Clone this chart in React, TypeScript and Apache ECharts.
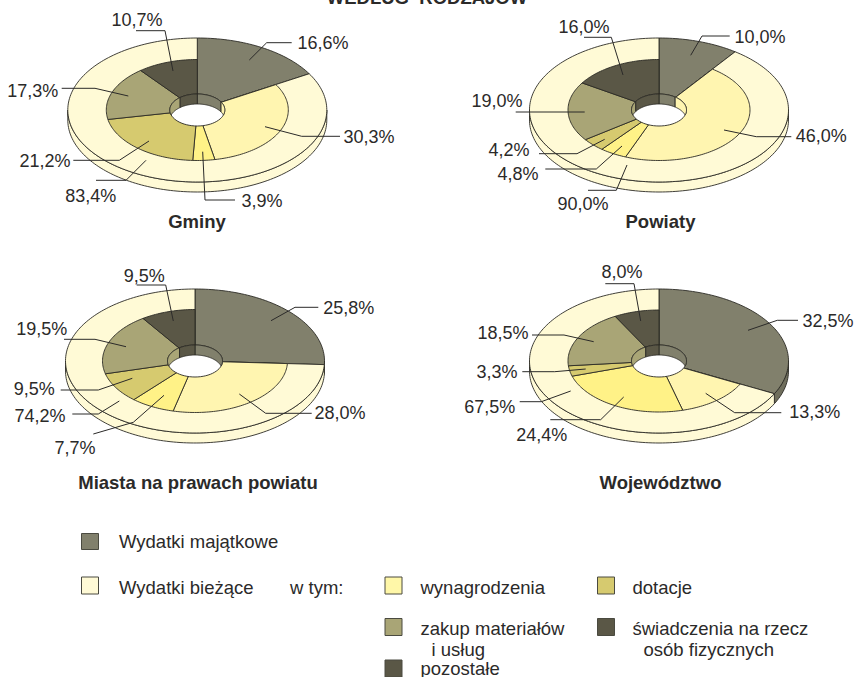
import React, { useEffect, useRef } from "react";
import * as echarts from "echarts";

// ---- values (percent) ----
const gminyOuter = [16.6, 83.4];
const gminyInner = [30.3, 3.9, 21.2, 17.3, 10.7];
const powiatyOuter = [10.0, 90.0];
const powiatyInner = [46.0, 4.8, 4.2, 19.0, 16.0];
const miastaOuter = [25.8, 74.2];
const miastaInner = [28.0, 7.7, 9.5, 19.5, 9.5];
const wojOuter = [32.5, 67.5];
const wojInner = [13.3, 24.4, 3.3, 18.5, 8.0];

const mainTitle = "WEDŁUG  RODZAJÓW";
const donutNames = ["Gminy", "Powiaty", "Miasta na prawach powiatu", "Województwo"];

// ---- styles ----
const C_MAJ = "#81806c";
const C_MAJ_SIDE = "#6f6e5c";
const C_BIE = "#fffad6";
const INNER_COLORS = ["#fff5b0", "#fff287", "#d6ca6f", "#a9a576", "#5a5746"];
const LINE = "#2b2a25";
const INK = "#2b2a29";
const FONT = '"Liberation Sans", Arial, sans-serif';

type Pt = [number, number];
interface Lbl { t: Pt; l: Pt[] }
// layout of each label: order is majątkowe, five inner slices, bieżące
const gminyLabels: Lbl[] = [
  { t: [323, 43], l: [[291.7, 42.7], [266.7, 42.7], [249.3, 60]] },
  { t: [369, 137], l: [[340, 136.3], [301.7, 136.3], [265, 126.7]] },
  { t: [262, 201], l: [[235, 200], [205, 200], [202.7, 151.7]] },
  { t: [45, 161], l: [[73.3, 160.3], [119.3, 160.3], [149, 141]] },
  { t: [32.7, 90.7], l: [[61.7, 88.3], [95, 88.3], [128.3, 96]] },
  { t: [137, 20], l: [[136, 30.7], [165, 30.7], [173, 71]] },
  { t: [90.7, 196], l: [[96, 180.3], [126, 180.3], [146, 160.3]] },
];
const powiatyLabels: Lbl[] = [
  { t: [760, 36.7], l: [[729.7, 36], [702, 36], [690.7, 55.3]] },
  { t: [821.3, 136], l: [[791.3, 136.7], [756.3, 136.7], [724, 130]] },
  { t: [518, 174], l: [[545.3, 169], [596.3, 169], [622, 146]] },
  { t: [509, 150], l: [[539, 153.7], [577, 153.7], [604.7, 139.3]] },
  { t: [497, 100.7], l: [[515.7, 112], [584.7, 112]] },
  { t: [584, 26.7], l: [[584, 37.3], [611.3, 37.3], [623, 75]] },
  { t: [583, 203.7], l: [[588, 190.3], [616.3, 190.3], [627, 165]] },
];
const miastaLabels: Lbl[] = [
  { t: [348.7, 308.3], l: [[318.3, 307.3], [295, 307.3], [271, 320.7]] },
  { t: [340, 413.3], l: [[311.7, 413.3], [265.7, 413.3], [239.3, 394]] },
  { t: [75, 447.7], l: [[93.3, 434], [133.3, 422.3], [164, 395.3]] },
  { t: [34.3, 389.3], l: [[60.7, 390], [98.3, 390], [132.3, 378.3]] },
  { t: [41.7, 329], l: [[64, 339.3], [95, 339.3], [126, 346.7]] },
  { t: [144.3, 275.7], l: [[136.7, 285], [165.7, 285], [173.3, 321]] },
  { t: [40, 415.7], l: [[72.3, 414], [98.3, 414], [119.3, 401]] },
];
const wojLabels: Lbl[] = [
  { t: [828, 320.7], l: [[798, 320.3], [777.3, 320.3], [748, 330.3]] },
  { t: [814.7, 412], l: [[781.3, 412.7], [734.7, 412.7], [705.7, 393.3]] },
  { t: [541.7, 435], l: [[550.3, 419.7], [600.7, 419.7], [623.7, 397]] },
  { t: [497, 371.7], l: [[522.3, 371.7], [554.7, 371.7], [585.7, 369]] },
  { t: [503, 333.3], l: [[532, 335], [564, 335], [593.7, 341.7]] },
  { t: [622, 272.3], l: [[605.3, 283.7], [634, 283.7], [640.7, 321]] },
  { t: [489.7, 406.7], l: [[519.7, 401.7], [541.3, 401.7], [570.7, 391]] },
];

const donuts = [
  { outer: gminyOuter, inner: gminyInner, labels: gminyLabels, cx: 197.3, cy: 110, irx: 91, iry: 50.5, tx: 197, ty: 221 },
  { outer: powiatyOuter, inner: powiatyInner, labels: powiatyLabels, cx: 659, cy: 110, irx: 91, iry: 50.5, tx: 660.5, ty: 221 },
  { outer: miastaOuter, inner: miastaInner, labels: miastaLabels, cx: 195, cy: 361, irx: 92.5, iry: 51.5, tx: 198, ty: 482.7 },
  { outer: wojOuter, inner: wojInner, labels: wojLabels, cx: 659, cy: 361, irx: 91, iry: 51, tx: 660.5, ty: 482.7 },
];

const RX = 129.5, RY = 72, DEPTH = 10, HRX = 27.5, HRY = 16, HD = 10;

const deg = (pct: number) => (pct * 360) / 100;
function arc(cx: number, cy: number, rx: number, ry: number, a: number, b: number): Pt[] {
  const n = Math.max(2, Math.ceil(Math.abs(b - a) / 1.5));
  const pts: Pt[] = [];
  for (let i = 0; i <= n; i++) {
    const t = ((a + ((b - a) * i) / n) * Math.PI) / 180;
    pts.push([cx + rx * Math.sin(t), cy - ry * Math.cos(t)]);
  }
  return pts;
}
const fmt = (v: number) => v.toFixed(1).replace(".", ",") + "%";
const poly = (points: Pt[], fill: string, lineWidth = 0.9) => ({
  type: "polygon",
  shape: { points },
  style: { fill, stroke: LINE, lineWidth, lineJoin: "round" },
});

// data rows are [value, cumulative start, colour index]
function rows(values: number[], start: number) {
  let s = start;
  return values.map((v, i) => {
    const r = [v, s, i];
    s += v;
    return r;
  });
}

function buildSeries() {
  const series: any[] = [];
  donuts.forEach((d) => {
    const { cx, cy, irx, iry } = d;
    const outerRows = rows(d.outer, 0);
    const innerRows = rows(d.inner, d.outer[0]);
    // outer ring with its rim
    series.push({
      type: "custom",
      coordinateSystem: "none",
      silent: true,
      z: 2,
      data: outerRows,
      renderItem: (_p: any, api: any) => {
        const v = api.value(0), s = api.value(1), idx = api.value(2);
        const a = deg(s), b = deg(s + v);
        const fill = idx === 0 ? C_MAJ : C_BIE;
        const side = idx === 0 ? C_MAJ_SIDE : C_BIE;
        const children: any[] = [];
        const sa = Math.max(a, 90), sb = Math.min(b, 270);
        if (sb > sa) {
          const top = arc(cx, cy, RX, RY, sa, sb);
          const bot = arc(cx, cy + DEPTH, RX, RY, sb, sa);
          children.push(poly([...top, ...bot], side));
        }
        children.push(poly([[cx, cy], ...arc(cx, cy, RX, RY, a, b)], fill));
        return { type: "group", children };
      },
    });
    // inner ring
    series.push({
      type: "custom",
      coordinateSystem: "none",
      silent: true,
      z: 3,
      data: innerRows,
      renderItem: (_p: any, api: any) => {
        const v = api.value(0), s = api.value(1), idx = api.value(2);
        const a = deg(s), b = deg(s + v);
        return poly([[cx, cy], ...arc(cx, cy, irx, iry, a, b)], INNER_COLORS[idx]);
      },
    });
    // hole with the back of its wall
    const wallRows = [[d.outer[0], 0, -1], ...innerRows];
    series.push({
      type: "custom",
      coordinateSystem: "none",
      silent: true,
      z: 4,
      data: wallRows,
      renderItem: (p: any, api: any) => {
        const v = api.value(0), s = api.value(1), idx = api.value(2);
        const a = deg(s), b = deg(s + v);
        const fill = idx < 0 ? C_MAJ : INNER_COLORS[idx];
        const children: any[] = [];
        if (p.dataIndex === 0) {
          children.push({
            type: "ellipse",
            shape: { cx, cy, rx: HRX, ry: HRY },
            style: { fill: "#ffffff", stroke: LINE, lineWidth: 0.9 },
          });
        }
        [[0, 90], [270, 360]].forEach(([lo, hi]) => {
          const wa = Math.max(a, lo), wb = Math.min(b, hi);
          if (wb <= wa) return;
          const top = arc(cx, cy, HRX, HRY, wa, wb);
          const bot = top
            .map(([x]) => {
              const q = Math.sqrt(Math.max(0, 1 - ((x - cx) / HRX) ** 2));
              return [x, Math.min(cy + HD - HRY * q, cy + HRY * q)] as Pt;
            })
            .reverse();
          children.push(poly([...top, ...bot], fill));
        });
        return { type: "group", children };
      },
    });
    // leaders and labels
    const labelRows = [d.outer[0], ...d.inner, d.outer[1]].map((v, i) => [v, i]);
    series.push({
      type: "custom",
      coordinateSystem: "none",
      silent: true,
      z: 5,
      data: labelRows,
      renderItem: (_p: any, api: any) => {
        const v = api.value(0), i = api.value(1);
        const L = d.labels[i];
        return {
          type: "group",
          children: [
            {
              type: "polyline",
              shape: { points: L.l },
              style: { fill: "none", stroke: INK, lineWidth: 1 },
            },
            {
              type: "text",
              style: {
                text: fmt(v),
                x: L.t[0],
                y: L.t[1],
                fill: INK,
                font: `18px ${FONT}`,
                align: "center",
                verticalAlign: "middle",
                textAlign: "center",
                textVerticalAlign: "middle",
              },
            },
          ],
        };
      },
    });
  });
  return series;
}

// ---- legend ----
const legendSwatches: [number, number, number, string][] = [
  [81.5, 533.5, 16, C_MAJ],
  [81.5, 577, 17, C_BIE],
  [385, 577, 17, "#fff7a8"],
  [597.5, 577, 17, "#d6ca6f"],
  [385, 618.5, 17, "#a9a576"],
  [597.5, 618.5, 17, "#5a5746"],
  [385, 660, 17, "#5a5746"],
];
const legendTexts: [string, number, number][] = [
  ["Wydatki majątkowe", 119, 541.5],
  ["Wydatki bieżące", 119, 587],
  ["w tym:", 290, 587],
  ["wynagrodzenia", 420.5, 587],
  ["dotacje", 632.5, 587],
  ["zakup materiałów", 420.5, 628.5],
  ["i usług", 431.5, 649.5],
  ["świadczenia na rzecz", 632.5, 628.5],
  ["osób fizycznych", 643.5, 649.5],
  ["pozostałe", 420.5, 668.5],
];

function buildGraphic() {
  const elements: any[] = [];
  elements.push({
    type: "text",
    style: {
      text: mainTitle,
      x: 427,
      y: -3,
      fill: INK,
      font: `bold 18.5px ${FONT}`,
      align: "center",
      verticalAlign: "middle",
    },
  });
  donuts.forEach((d, i) => {
    elements.push({
      type: "text",
      style: {
        text: donutNames[i],
        x: d.tx,
        y: d.ty,
        fill: INK,
        font: `bold 18.5px ${FONT}`,
        align: "center",
        verticalAlign: "middle",
      },
    });
  });
  legendSwatches.forEach(([x, y, h, c]) => {
    elements.push({
      type: "rect",
      shape: { x, y, width: 17, height: h },
      style: { fill: c, stroke: "#4a4a40", lineWidth: 1 },
    });
  });
  legendTexts.forEach(([text, x, y]) => {
    elements.push({
      type: "text",
      style: { text, x, y, fill: INK, font: `18.5px ${FONT}`, align: "left", verticalAlign: "middle" },
    });
  });
  return elements;
}

export default function App() {
  const ref = useRef<HTMLDivElement>(null);
  useEffect(() => {
    const chart = echarts.init(ref.current!, undefined, { renderer: "svg" });
    chart.setOption({
      animation: false,
      backgroundColor: "#ffffff",
      series: buildSeries(),
      graphic: { elements: buildGraphic() },
    });
    return () => chart.dispose();
  }, []);
  return (
    <div
      ref={ref}
      style={{ position: "fixed", left: 0, top: 0, width: 856, height: 677 }}
    />
  );
}
